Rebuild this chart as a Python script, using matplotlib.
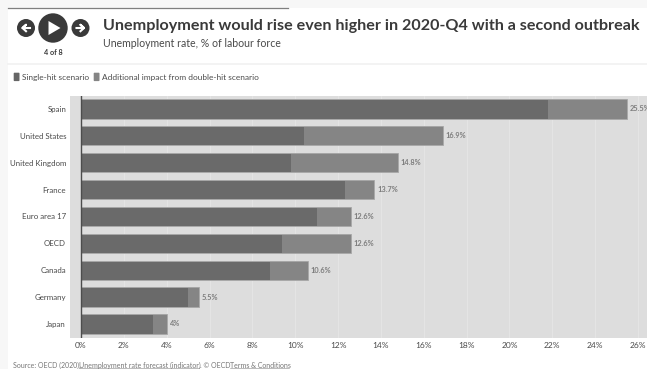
import matplotlib
matplotlib.use("Agg")
import matplotlib.pyplot as plt
from matplotlib.patches import Circle, Polygon, Rectangle, FancyBboxPatch

countries = ["Spain", "United States", "United Kingdom", "France", "Euro area 17",
             "OECD", "Canada", "Germany", "Japan"]
single_hit = [21.8, 10.4, 9.8, 12.3, 11.0, 9.4, 8.8, 5.0, 3.35]
double_hit = [25.5, 16.9, 14.8, 13.7, 12.6, 12.6, 10.6, 5.5, 4.0]
value_labels = ["25.5%", "16.9%", "14.8%", "13.7%", "12.6%", "12.6%", "10.6%", "5.5%", "4%"]
x_ticks = list(range(0, 27, 2))

W, H = 647, 369
FONT = "Lato"
DARK = "#3a3a3a"

plt.rcParams["font.family"] = [FONT, "DejaVu Sans"]
fig = plt.figure(figsize=(W / 100, H / 100), dpi=100, facecolor="#f7f7f7")

# Page layer in pixel coordinates
page = fig.add_axes([0, 0, 1, 1])
page.set_xlim(0, W)
page.set_ylim(H, 0)
page.axis("off")
page.add_patch(Rectangle((8, 8), W - 8, H - 8, fc="white", ec="none"))
page.plot([8, 288], [8, 8], color="#7f7f7f", lw=0.9)
page.plot([8, W], [63.5, 63.5], color="#f1f1f1", lw=1.2)

# Slideshow controls
page.add_patch(Circle((26, 28), 9, fc=DARK, ec="none"))
page.add_patch(Circle((53, 28), 14.7, fc=DARK, ec="none"))
page.add_patch(Circle((80.5, 28), 9, fc=DARK, ec="none"))
page.add_patch(Polygon([(48.5, 21), (48.5, 35), (60.5, 28)], fc="white", ec="none"))
page.plot([30, 22.5, 26, 22.5, 26], [28, 28, 24.8, 28, 31.2], color="white", lw=1.5)
page.plot([76.5, 84, 80.5, 84, 80.5], [28, 28, 24.8, 28, 31.2], color="white", lw=1.5)
page.text(53, 52.5, "4 of 8", ha="center", va="center", fontsize=5.2, fontweight="bold", color=DARK)

# Header
page.text(103, 26, "Unemployment would rise even higher in 2020-Q4 with a second outbreak",
          ha="left", va="center", fontsize=11.6, fontweight="bold", color=DARK)
page.text(103, 43.5, "Unemployment rate, % of labour force", ha="left", va="center",
          fontsize=7.6, color="#4a4a4a")

# Legend
for x0, colour, label, tx in [(13.7, "#666666", "Single-hit scenario", 22.3),
                              (93.7, "#858585", "Additional impact from double-hit scenario", 102.3)]:
    page.add_patch(FancyBboxPatch((x0 + 0.8, 73.5), 4.2, 6.8, boxstyle="round,pad=0.8",
                                  fc=colour, ec="none"))
    page.text(tx, 77.3, label, ha="left", va="center", fontsize=5.95, color="#4a4a4a")

# Source line
SOURCE_SIZE = 5.0
page.text(13, 365, "Source: OECD (2020),", ha="left", va="center", fontsize=SOURCE_SIZE, color="#777777")
page.text(79, 365, "Unemployment rate forecast (indicator)", ha="left", va="center", fontsize=SOURCE_SIZE, color="#777777")
page.plot([79, 199], [367.5, 367.5], color="#888888", lw=0.4)
page.text(200, 365, ". © OECD", ha="left", va="center", fontsize=SOURCE_SIZE, color="#777777")
page.text(230, 365, "Terms & Conditions", ha="left", va="center", fontsize=SOURCE_SIZE, color="#777777")
page.plot([230, 289], [367.5, 367.5], color="#888888", lw=0.4)

# Chart area: 0% sits at x=81 and 26% at x=638
left, right, top, bottom = 70, W, 96, 337.5
px_per_unit = (638 - 81) / 26
ax = fig.add_axes([left / W, 1 - bottom / H, (right - left) / W, (bottom - top) / H])
ax.set_facecolor("#dddddd")
ax.set_xlim((left - 81) / px_per_unit, (right - 81) / px_per_unit)
row_px = 26.9
ax.set_ylim((bottom - 108.8) / row_px, (top - 108.8) / row_px)
for s in ax.spines.values():
    s.set_visible(False)

ax.set_xticks(x_ticks)
ax.set_xticklabels([f"{t}%" for t in x_ticks], fontsize=6.0, color="#4a4a4a")
positions = list(range(len(countries)))
ax.set_yticks(positions)
ax.set_yticklabels(countries, fontsize=5.7, color="#4a4a4a")
ax.tick_params(axis="both", length=0)
ax.tick_params(axis="x", pad=3.5)
ax.tick_params(axis="y", pad=2.8)
ax.grid(axis="x", color="#e6e6e6", lw=0.6)
ax.set_axisbelow(True)

bar_h = 19.4 / row_px
extra = [d - s for d, s in zip(double_hit, single_hit)]
ax.barh(positions, single_hit, height=bar_h, color="#6a6a6a", edgecolor="none", zorder=3)
ax.barh(positions, extra, left=single_hit, height=bar_h, color="#858585", edgecolor="none", zorder=3)
ax.barh(positions, double_hit, height=bar_h, fill=False, edgecolor="#a8a8a8", lw=0.7, zorder=4)
ax.axvline(0, color="#4d4d4d", lw=1.0, zorder=5)

for y, v, lab in zip(positions, double_hit, value_labels):
    ax.annotate(lab, (v, y), xytext=(2.0, 0), textcoords="offset points", ha="left", va="center",
                fontsize=5.3, fontweight="bold", color="#7d7d7d", annotation_clip=False, zorder=6)

fig.savefig("out.png", dpi=100, facecolor=fig.get_facecolor())
